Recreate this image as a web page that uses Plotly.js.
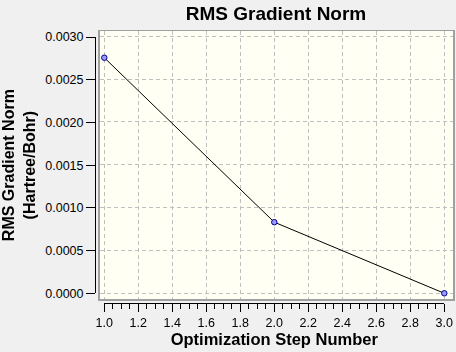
<!DOCTYPE html>
<html>
<head>
<meta charset="utf-8">
<script src="https://cdn.plot.ly/plotly-3.0.1.min.js"></script>
<style>
html,body{margin:0;padding:0;background:#f0f0f0;}
#chart{width:456px;height:352px;}
</style>
</head>
<body>
<div id="chart"></div>
<script>
// Data
var steps = [1, 2, 3];
var rmsGradient = [0.00275, 0.00083, 0.0000];
var xTickVals = [1.0, 1.2, 1.4, 1.6, 1.8, 2.0, 2.2, 2.4, 2.6, 2.8, 3.0];
var yTickVals = [0.0000, 0.0005, 0.0010, 0.0015, 0.0020, 0.0025, 0.0030];

var tickFont = {family: '"Liberation Sans", Arial, sans-serif', size: 12.5, color: '#000'};
var boldFont = {family: '"Liberation Sans", Arial, sans-serif', color: '#000'};

var traces = [
  {
    x: steps, y: rmsGradient, type: 'scatter', mode: 'markers',
    xaxis: 'x2', yaxis: 'y2', opacity: 0, hoverinfo: 'skip', showlegend: false
  },
  {
    x: steps, y: rmsGradient, type: 'scatter', mode: 'lines+markers',
    xaxis: 'x', yaxis: 'y',
    line: {color: '#000000', width: 1},
    marker: {size: 5.5, color: '#9a9aff', line: {color: '#00008b', width: 1}},
    showlegend: false, hoverinfo: 'x+y', cliponaxis: false
  }
];

var W = 456, H = 352;
var L = 95, R = 3, T = 31, B = 49;
var pw = W - L - R, ph = H - T - B;
function fx(px){ return (px - L) / pw; }
function fy(py){ return (H - B - py) / ph; }

var layout = {
  width: W, height: H,
  margin: {l: L, r: R, t: T, b: B, pad: 0},
  paper_bgcolor: '#f0f0f0',
  plot_bgcolor: 'rgba(0,0,0,0)',
  showlegend: false,
  shapes: [{
    type: 'rect', xref: 'paper', yref: 'paper', layer: 'below',
    x0: fx(99.5), x1: 1, y0: fy(299), y1: 1,
    fillcolor: '#fffff4', line: {width: 0}
  }],
  title: {
    text: 'RMS Gradient Norm',
    font: Object.assign({size: 19, weight: 'bold'}, boldFont),
    x: fx(276), xref: 'paper', xanchor: 'center',
    y: 1 - 13.5 / H, yref: 'container', yanchor: 'middle'
  },
  xaxis: {
    domain: [fx(99.5), 1],
    range: [1 - 4.8 / 170, 3 + 8.7 / 170],
    showgrid: true, gridcolor: '#c0c0c0', griddash: '4px,3px', gridwidth: 1,
    tickvals: xTickVals, showticklabels: false, ticks: '',
    zeroline: false,
    showline: true, mirror: true, linecolor: '#a0a0a0', linewidth: 1.5,
    fixedrange: true
  },
  yaxis: {
    domain: [fy(299), 1],
    range: [-0.0000667, 0.003062],
    showgrid: true, gridcolor: '#c0c0c0', griddash: '4px,3px', gridwidth: 1,
    tickvals: yTickVals, showticklabels: false, ticks: '',
    zeroline: false,
    showline: true, mirror: true, linecolor: '#a0a0a0', linewidth: 1.5,
    fixedrange: true
  },
  xaxis2: {
    anchor: 'free', position: 0,
    domain: [fx(104.3), fx(444.3)],
    range: [1, 3],
    showgrid: false, zeroline: false,
    showline: true, linecolor: '#000', linewidth: 1,
    tickvals: xTickVals, tickformat: '.1f',
    ticks: 'outside', ticklen: 8, tickcolor: '#000', tickwidth: 1,
    minor: {dtick: 0.05, tick0: 1, ticks: 'outside', ticklen: 5, tickcolor: '#000', tickwidth: 1, showgrid: false},
    tickfont: tickFont,
    title: {text: 'Optimization Step Number', font: Object.assign({size: 16.5, weight: 'bold'}, boldFont), standoff: 3},
    fixedrange: true
  },
  yaxis2: {
    anchor: 'free', position: 0,
    domain: [fy(293.3), fy(37)],
    range: [0, 0.003],
    showgrid: false, zeroline: false,
    showline: true, linecolor: '#000', linewidth: 1,
    tickvals: yTickVals, tickformat: '.4f',
    ticks: 'outside', ticklen: 9, tickcolor: '#000', tickwidth: 1,
    tickfont: tickFont,
    title: {text: 'RMS Gradient Norm<br>(Hartree/Bohr)', font: Object.assign({size: 16, weight: 'bold'}, boldFont), standoff: 5},
    fixedrange: true
  }
};

Plotly.newPlot('chart', traces, layout, {displayModeBar: false, staticPlot: true});
</script>
</body>
</html>
